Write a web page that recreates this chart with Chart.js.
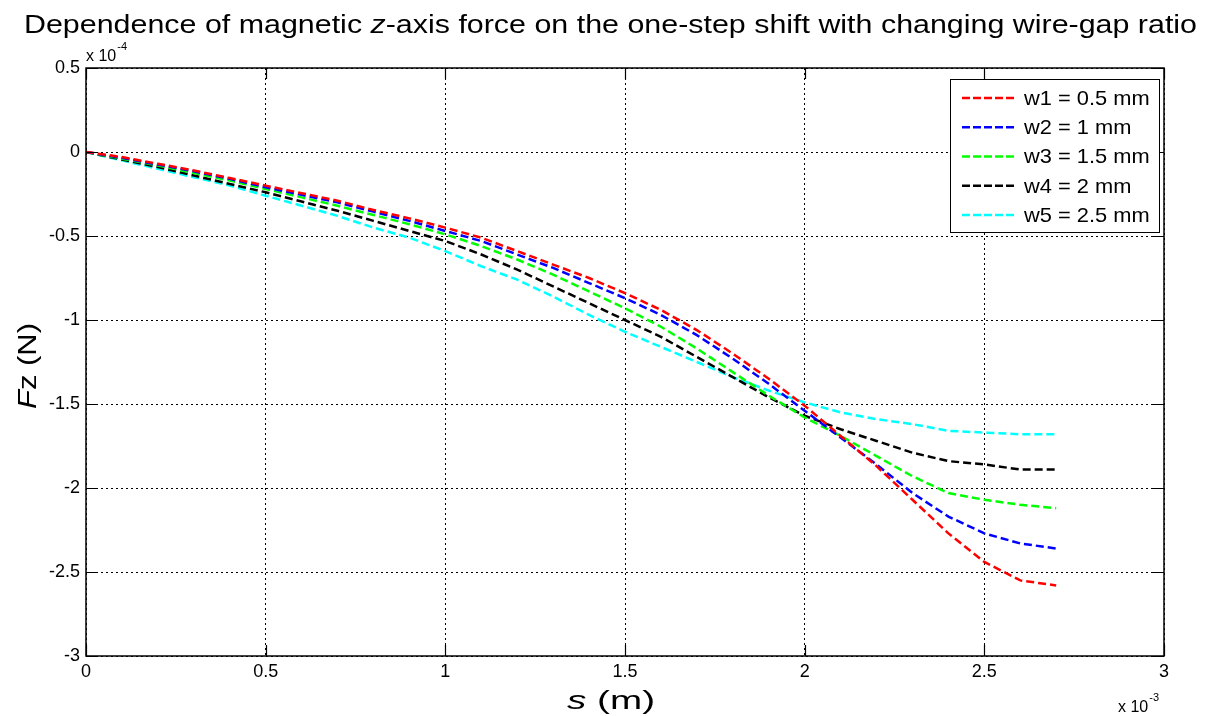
<!DOCTYPE html>
<html>
<head>
<meta charset="utf-8">
<script src="https://cdn.jsdelivr.net/npm/chart.js@4.4.1/dist/chart.umd.min.js"></script>
<style>
  html, body { margin: 0; padding: 0; background: #fff; }
  #wrap { width: 1212px; height: 716px; position: relative; }
</style>
</head>
<body>
<div id="wrap"><canvas id="c" width="1212" height="716"></canvas></div>
<script>
// s in units of 1e-3 m
const sValues = [0,0.1,0.2,0.3,0.4,0.5,0.6,0.7,0.8,0.9,1.0,1.1,1.2,1.3,1.4,1.5,1.6,1.7,1.8,1.9,2.0,2.1,2.2,2.3,2.4,2.5,2.6,2.7];
// Fz in units of 1e-4 N
const w1 = [0,-0.03,-0.07,-0.11,-0.155,-0.20,-0.245,-0.29,-0.345,-0.395,-0.45,-0.51,-0.59,-0.67,-0.75,-0.84,-0.94,-1.06,-1.20,-1.35,-1.51,-1.69,-1.87,-2.07,-2.27,-2.44,-2.55,-2.58];
const w2 = [0,-0.035,-0.075,-0.115,-0.16,-0.21,-0.255,-0.30,-0.355,-0.41,-0.47,-0.53,-0.61,-0.69,-0.78,-0.87,-0.97,-1.09,-1.23,-1.38,-1.54,-1.70,-1.86,-2.03,-2.17,-2.27,-2.33,-2.36];
const w3 = [0,-0.04,-0.08,-0.125,-0.17,-0.22,-0.27,-0.32,-0.375,-0.43,-0.49,-0.56,-0.64,-0.73,-0.83,-0.93,-1.04,-1.17,-1.31,-1.45,-1.58,-1.69,-1.81,-1.93,-2.03,-2.07,-2.10,-2.12];
const w4 = [0,-0.045,-0.09,-0.14,-0.19,-0.24,-0.295,-0.35,-0.41,-0.47,-0.53,-0.61,-0.70,-0.80,-0.90,-1.00,-1.10,-1.22,-1.34,-1.46,-1.57,-1.65,-1.72,-1.79,-1.84,-1.86,-1.89,-1.89];
const w5 = [0,-0.05,-0.10,-0.15,-0.20,-0.26,-0.32,-0.38,-0.45,-0.51,-0.59,-0.68,-0.76,-0.86,-0.97,-1.07,-1.16,-1.25,-1.34,-1.42,-1.49,-1.55,-1.59,-1.62,-1.66,-1.67,-1.68,-1.68];
const seriesLabels = ['w1 = 0.5 mm','w2 = 1 mm','w3 = 1.5 mm','w4 = 2 mm','w5 = 2.5 mm'];
const seriesColors = ['#ff0000','#0000ff','#00ff00','#000000','#00ffff'];
const xTickLabels = ['0','0.5','1','1.5','2','2.5','3'];
const yTickLabels = ['0.5','0','-0.5','-1','-1.5','-2','-2.5','-3'];
const titleParts = [['Dependence of magnetic ', false], ['z', true], ['-axis force on the one-step shift with changing wire-gap ratio', false]];

const FONT = '"Liberation Sans", Arial, Helvetica, sans-serif';
const allSeries = [w1, w2, w3, w4, w5];

function mkData(arr) { return sValues.map((s, i) => ({x: s, y: arr[i]})); }

const datasets = allSeries.map((arr, i) => ({
  label: seriesLabels[i],
  data: mkData(arr),
  borderColor: seriesColors[i],
  backgroundColor: seriesColors[i],
  borderWidth: 2.5,
  borderDash: [8, 4],
  pointRadius: 0,
  tension: 0,
  fill: false
}));

function drawParts(ctx, parts, size, x, y, targetW) {
  let w = 0;
  parts.forEach(p => { ctx.font = (p[1] ? 'italic ' : '') + size + 'px ' + FONT; w += ctx.measureText(p[0]).width; });
  const sx = targetW ? targetW / w : 1;
  ctx.save();
  ctx.translate(x, y);
  ctx.scale(sx, 1);
  let cx = 0;
  parts.forEach(p => {
    ctx.font = (p[1] ? 'italic ' : '') + size + 'px ' + FONT;
    ctx.fillText(p[0], cx, 0);
    cx += ctx.measureText(p[0]).width;
  });
  ctx.restore();
  return w * sx;
}

const decor = {
  id: 'decor',
  afterDraw(chart) {
    const ctx = chart.ctx;
    const a = chart.chartArea;
    const xs = chart.scales.x, ys = chart.scales.y;
    ctx.save();
    ctx.fillStyle = '#000';
    ctx.strokeStyle = '#000';
    ctx.setLineDash([]);
    // box
    ctx.lineWidth = 1.5;
    ctx.strokeRect(a.left, a.top, a.right - a.left, a.bottom - a.top);
    // inward ticks
    ctx.lineWidth = 1.2;
    ctx.beginPath();
    xs.ticks.forEach(t => {
      const px = Math.round(xs.getPixelForValue(t.value)) + 0.5;
      ctx.moveTo(px, a.bottom); ctx.lineTo(px, a.bottom - 11);
      ctx.moveTo(px, a.top); ctx.lineTo(px, a.top + 11);
    });
    ys.ticks.forEach(t => {
      const py = Math.round(ys.getPixelForValue(t.value)) + 0.5;
      ctx.moveTo(a.left, py); ctx.lineTo(a.left + 11, py);
      ctx.moveTo(a.right, py); ctx.lineTo(a.right - 11, py);
    });
    ctx.stroke();

    // title
    ctx.textBaseline = 'alphabetic';
    ctx.textAlign = 'left';
    drawParts(ctx, titleParts, 25, 24, 33, 1173);

    // y axis label (rotated)
    ctx.save();
    ctx.translate(36, 366);
    ctx.rotate(-Math.PI / 2);
    drawParts(ctx, [['F', true], ['z (N)', false]], 25, -43, 0, 86);
    ctx.restore();

    // x axis label
    drawParts(ctx, [['s', true], [' (m)', false]], 25, 567, 709, 88);

    // exponent labels
    ctx.font = '16px ' + FONT;
    ctx.fillText('x 10', 86, 61);
    let w = ctx.measureText('x 10').width;
    ctx.font = '11px ' + FONT;
    ctx.fillText('-4', 86 + w + 1, 50);

    ctx.font = '16px ' + FONT;
    ctx.fillText('x 10', 1118, 712);
    w = ctx.measureText('x 10').width;
    ctx.font = '11px ' + FONT;
    ctx.fillText('-3', 1118 + w + 1, 701);

    // legend
    const lx = 950, ly = 79, lw = 209, lh = 153;
    ctx.fillStyle = '#fff';
    ctx.fillRect(lx, ly, lw, lh);
    ctx.lineWidth = 1;
    ctx.strokeStyle = '#000';
    ctx.strokeRect(lx + 0.5, ly + 0.5, lw, lh);
    seriesLabels.forEach((lab, i) => {
      const yy = 98 + i * 29.25;
      ctx.strokeStyle = seriesColors[i];
      ctx.lineWidth = 2.5;
      ctx.setLineDash([8, 3]);
      ctx.beginPath();
      ctx.moveTo(962, yy); ctx.lineTo(1016, yy);
      ctx.stroke();
      ctx.setLineDash([]);
      ctx.fillStyle = '#000';
      ctx.textBaseline = 'middle';
      ctx.font = '21px ' + FONT;
      const tw = ctx.measureText(lab).width;
      ctx.save();
      ctx.translate(1024, yy + 1);
      ctx.scale(1.04, 1);
      ctx.fillText(lab, 0, 0);
      ctx.restore();
    });
    ctx.restore();
  }
};

new Chart(document.getElementById('c'), {
  type: 'line',
  data: { datasets },
  options: {
    responsive: false,
    animation: false,
    devicePixelRatio: 1,
    layout: { padding: { top: 68, right: 48, left: 0, bottom: 0 } },
    plugins: { legend: { display: false }, title: { display: false }, tooltip: { enabled: false } },
    scales: {
      x: {
        type: 'linear', min: 0, max: 3,
        afterFit(s) { s.height = 60; },
        afterBuildTicks(s) { s.ticks = xTickLabels.map(v => ({value: parseFloat(v)})); },
        ticks: {
          color: '#000', padding: 5, maxRotation: 0, autoSkip: false,
          font: { family: FONT, size: 18 },
          callback: (v) => xTickLabels.find(l => parseFloat(l) === v) ?? ''
        },
        grid: { color: '#000', lineWidth: 1, drawTicks: false },
        border: { display: false, dash: [2, 3] }
      },
      y: {
        type: 'linear', min: -3, max: 0.5,
        afterFit(s) { s.width = 86; },
        afterBuildTicks(s) { s.ticks = yTickLabels.map(v => ({value: parseFloat(v)})); },
        ticks: {
          color: '#000', padding: 6, autoSkip: false,
          font: { family: FONT, size: 18 },
          callback: (v) => yTickLabels.find(l => parseFloat(l) === v) ?? ''
        },
        grid: { color: '#000', lineWidth: 1, drawTicks: false },
        border: { display: false, dash: [2, 3] }
      }
    }
  },
  plugins: [decor]
});
</script>
</body>
</html>
